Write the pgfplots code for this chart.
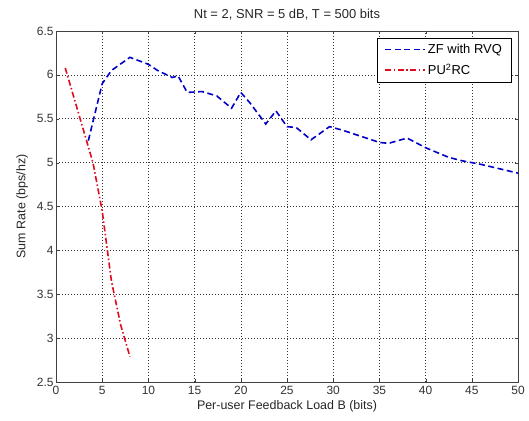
\documentclass[border=0pt]{standalone}
\usepackage{pgfplots}
\pgfplotsset{compat=1.18}
\usepackage{fontspec}
\setmainfont{Liberation Sans}
\definecolor{mblue}{RGB}{0,0,200}
\definecolor{mred}{RGB}{225,10,30}
\begin{document}
\begin{tikzpicture}
\begin{axis}[
  name=ax,
  scale only axis,
  width=462bp, height=351bp,
  xmin=0, xmax=50, ymin=2.5, ymax=6.5,
  xtick={0,5,...,50},
  ytick={2.5,3,...,6.5},
  grid=major,
  grid style={black!80, dash pattern=on 0.6bp off 2.4bp, line width=0.5pt},
  tick align=inside,
  major tick length=3bp,
  axis line style={black!75, line width=0.6pt},
  tick style={black!75},
  /pgf/number format/assume math mode=true,
  ticklabel style={font=\fontsize{12}{14}\selectfont, text=black!80},
  xticklabel style={yshift=-0.5bp},
  yticklabel style={xshift=1bp},
  title={Nt = 2, SNR = 5 dB, T = 500 bits},
  title style={font=\fontsize{13}{15}\selectfont, text=black!85, yshift=1bp},
  xlabel={Per-user Feedback Load B (bits)},
  ylabel={Sum Rate (bps/hz)},
  label style={font=\fontsize{12.5}{14}\selectfont, text=black!85},
  xlabel style={yshift=1bp},
  ylabel style={yshift=2bp},
  legend style={at={(0.985,0.98)}, anchor=north east, draw=black,
    font=\fontsize{13}{15}\selectfont, inner xsep=7bp, inner ysep=4bp, row sep=5bp},
  legend cell align=left,
]
\addlegendimage{legend image code/.code={\draw[mblue, line width=1.6pt, dash pattern=on 6bp off 3.5bp] (0bp,0bp) -- (40bp,0bp);}}
\addlegendentry{ZF with RVQ}
\addlegendimage{legend image code/.code={\draw[mred, line width=1.6pt, dash pattern=on 6bp off 2.5bp on 1.5bp off 2.5bp] (0bp,0bp) -- (40bp,0bp);}}
\addlegendentry{PU\textsuperscript{2}RC}
\addplot[mblue, line width=1.6pt, dash pattern=on 6bp off 3.5bp] coordinates {
(3.5,5.25) (5,5.9) (6,6.05) (8,6.2) (10,6.12) (11,6.05) (12.6,5.97) (13.2,5.99)
(14.2,5.8) (15.8,5.81) (17.4,5.76) (19,5.62) (20,5.8) (21,5.68) (22.7,5.44)
(23.8,5.59) (25,5.41) (26,5.4) (27.6,5.26) (29.6,5.41) (31,5.37) (33,5.3)
(35,5.23) (36,5.22) (38,5.28) (40,5.17) (42.5,5.06) (44,5.02) (46,4.98)
(48,4.93) (50,4.88)
};
\addplot[mred, line width=1.6pt, dash pattern=on 6bp off 2.5bp on 1.5bp off 2.5bp] coordinates {
(1,6.08) (2,5.72) (3,5.36) (4,5.0) (5,4.45) (6,3.65) (7,3.15) (8,2.79)
};
\end{axis}
\pgfresetboundingbox
\path[use as bounding box] ([shift={(-56bp,-39bp)}]ax.south west) rectangle ([shift={(11bp,31bp)}]ax.north east);
\end{tikzpicture}
\end{document}
